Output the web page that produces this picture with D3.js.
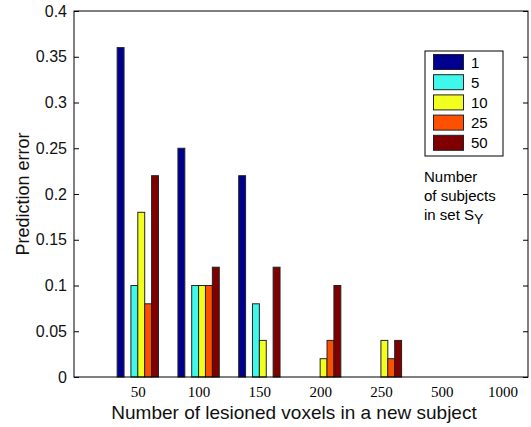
<!DOCTYPE html>
<html>
<head>
<meta charset="utf-8">
<script src="https://cdn.jsdelivr.net/npm/d3@7"></script>
<style>
  body { margin: 0; background: #fff; }
</style>
</head>
<body>
<div class="canvas"></div>
<script>
// groups on the x axis
const voxelCounts = ['50', '100', '150', '200', '250', '500', '1000'];
// series = number of subjects in set S_Y
const subjectSets = ['1', '5', '10', '25', '50'];
const colors = ['#000090', '#3ff8ec', '#f2ff1e', '#ff5000', '#800000'];

const err1  = [0.36, 0.25, 0.22, 0,    0,    0, 0];
const err5  = [0.10, 0.10, 0.08, 0,    0,    0, 0];
const err10 = [0.18, 0.10, 0.04, 0.02, 0.04, 0, 0];
const err25 = [0.08, 0.10, 0,    0.04, 0.02, 0, 0];
const err50 = [0.22, 0.12, 0.12, 0.10, 0.04, 0, 0];
const seriesValues = [err1, err5, err10, err25, err50];

const yTicks = [0, 0.05, 0.1, 0.15, 0.2, 0.25, 0.3, 0.35, 0.4];

const plotLeft = 74, plotRight = 528, plotTop = 11, plotBottom = 377;
const sans = 'Arial, "Liberation Sans", sans-serif';

const svg = d3.select('.canvas')
  .append('svg')
  .attr('width', 531)
  .attr('height', 427)
  .style('font-family', sans);

// group index -> pixel
const x = d3.scaleLinear()
  .domain([-0.05, 7.42])
  .range([plotLeft, plotRight]);

const y = d3.scaleLinear()
  .domain([0, 0.4])
  .range([plotBottom, plotTop]);

// six slots per group, the second one is empty
const slots = [0, 2, 3, 4, 5];
const slot = d3.scaleBand()
  .domain(d3.range(6))
  .range([-0.34, 0.34]);

// bars
seriesValues.forEach((vals, s) => {
  svg.append('g')
    .selectAll('rect')
    .data(vals.map((v, i) => ({ v, i })).filter(d => d.v > 0))
    .join('rect')
    .attr('x', d => x(d.i + 1 + slot(slots[s])))
    .attr('width', x(slot.bandwidth()) - x(0))
    .attr('y', d => y(d.v))
    .attr('height', d => y(0) - y(d.v))
    .attr('fill', colors[s])
    .attr('stroke', '#222')
    .attr('stroke-width', 1);
});

// frame
svg.append('rect')
  .attr('x', plotLeft)
  .attr('y', plotTop)
  .attr('width', plotRight - plotLeft)
  .attr('height', plotBottom - plotTop)
  .attr('fill', 'none')
  .attr('stroke', '#000')
  .attr('stroke-width', 1);

// y axis, ticks pointing inward
const yAxis = svg.append('g')
  .attr('transform', `translate(${plotLeft},0)`)
  .call(d3.axisLeft(y).tickValues(yTicks).tickSizeInner(-5).tickSizeOuter(0)
    .tickFormat(d => String(+d.toFixed(2))));
yAxis.select('.domain').remove();
yAxis.selectAll('line').attr('stroke', '#000');
yAxis.selectAll('text')
  .attr('x', -7)
  .attr('font-size', 16)
  .attr('fill', '#111')
  .style('font-family', sans);

const yAxisR = svg.append('g')
  .attr('transform', `translate(${plotRight},0)`)
  .call(d3.axisRight(y).tickValues(yTicks).tickSizeInner(-5).tickSizeOuter(0).tickFormat(''));
yAxisR.select('.domain').remove();
yAxisR.selectAll('line').attr('stroke', '#000');

// x axis labels
const xAxis = svg.append('g')
  .attr('transform', `translate(0,${plotBottom})`)
  .call(d3.axisBottom(x).tickValues(d3.range(1, 8)).tickSize(0)
    .tickFormat(d => voxelCounts[d - 1]));
xAxis.select('.domain').remove();
xAxis.selectAll('text')
  .attr('y', 9)
  .attr('font-size', 15)
  .attr('fill', '#000')
  .style('font-family', '"Liberation Serif", "Times New Roman", serif');

// axis titles
svg.append('text')
  .attr('x', 294)
  .attr('y', 419)
  .attr('text-anchor', 'middle')
  .attr('font-size', 19)
  .attr('fill', '#111')
  .text('Number of lesioned voxels in a new subject');

svg.append('text')
  .attr('transform', `translate(29,${(plotTop + plotBottom) / 2}) rotate(-90)`)
  .attr('text-anchor', 'middle')
  .attr('font-size', 18)
  .attr('fill', '#111')
  .text('Prediction error');

// legend
const legend = svg.append('g');
legend.append('rect')
  .attr('x', 425)
  .attr('y', 51)
  .attr('width', 78)
  .attr('height', 105)
  .attr('fill', '#fff')
  .attr('stroke', '#000');

subjectSets.forEach((name, i) => {
  legend.append('rect')
    .attr('x', 433.5)
    .attr('y', 54.5 + i * 20.2)
    .attr('width', 30)
    .attr('height', 15)
    .attr('fill', colors[i])
    .attr('stroke', '#222');
  legend.append('text')
    .attr('x', 471)
    .attr('y', 67.5 + i * 20.2)
    .attr('font-size', 15)
    .attr('fill', '#000')
    .text(name);
});

const note = svg.append('text')
  .attr('x', 424)
  .attr('font-size', 15)
  .attr('fill', '#000');
note.append('tspan').attr('x', 424).attr('y', 182).text('Number');
note.append('tspan').attr('x', 424).attr('y', 201).text('of subjects');
note.append('tspan').attr('x', 424).attr('y', 220).text('in set  S');
note.append('tspan').attr('dy', 4).attr('font-size', 14).text('Y');
</script>
</body>
</html>
